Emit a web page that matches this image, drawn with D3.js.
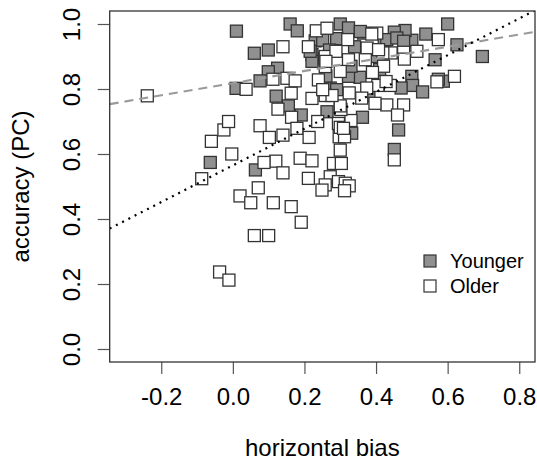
<!DOCTYPE html>
<html>
<head>
<meta charset="utf-8">
<script src="https://cdn.jsdelivr.net/npm/d3@7/dist/d3.min.js"></script>
<style>
  html, body { margin: 0; padding: 0; background: #fff; }
  svg { display: block; font-family: "Liberation Sans", Arial, Helvetica, sans-serif; }
</style>
</head>
<body>
<svg id="chart" width="537" height="462"></svg>
<script>
// Horizontal bias vs. accuracy (PC), by age group
const groups = ["Younger", "Older"];

const youngerBias = [
  -0.063, 0.010, 0.160, 0.180, 0.060, 0.099, 0.125, 0.099, 0.076, 0.009,
  0.121, 0.155, 0.191, 0.063, 0.263, 0.332, 0.362, 0.463, 0.451, 0.600,
  0.626, 0.697, 0.565, 0.539, 0.500, 0.481, 0.451, 0.500, 0.502, 0.530,
  0.588, 0.470, 0.423, 0.300, 0.355, 0.223, 0.230, 0.251, 0.221, 0.221,
  0.272, 0.323, 0.290, 0.365, 0.430, 0.458, 0.323, 0.290, 0.300, 0.270,
  0.340, 0.390, 0.410, 0.330, 0.380, 0.260, 0.574, 0.356, 0.477, 0.216
];
const youngerPC = [
  0.574, 0.978, 1.000, 0.979, 0.910, 0.920, 0.864, 0.853, 0.825, 0.802,
  0.778, 0.748, 0.720, 0.551, 0.730, 0.664, 0.713, 0.674, 0.614, 1.000,
  0.936, 0.900, 0.890, 0.969, 0.950, 0.980, 0.975, 0.839, 0.811, 0.791,
  0.824, 0.803, 0.947, 1.000, 0.836, 0.894, 0.948, 0.950, 0.906, 0.885,
  0.803, 0.988, 0.955, 0.972, 0.952, 0.957, 0.839, 0.798, 0.740, 0.920,
  0.930, 0.900, 0.860, 0.870, 0.780, 0.840, 0.830, 0.977, 0.947, 0.916
];

const olderBias = [
  -0.239, -0.060, -0.025, -0.087, -0.003, -0.012, 0.233, 0.140, 0.211, 0.112,
  0.151, 0.174, 0.037, 0.163, 0.221, 0.126, 0.164, 0.076, 0.102, 0.140,
  0.179, 0.213, 0.120, 0.087, 0.140, 0.188, 0.221, 0.211, 0.071, 0.020,
  0.050, 0.113, 0.163, 0.191, 0.060, 0.100, -0.037, -0.011, 0.237, 0.300,
  0.281, 0.272, 0.258, 0.249, 0.303, 0.295, 0.297, 0.295, 0.300, 0.312,
  0.330, 0.302, 0.430, 0.477, 0.460, 0.451, 0.314, 0.325, 0.312, 0.397,
  0.574, 0.477, 0.479, 0.514, 0.570, 0.619, 0.421, 0.390, 0.440, 0.405,
  0.374, 0.325, 0.360, 0.402, 0.442, 0.419, 0.375, 0.321, 0.388, 0.323,
  0.370, 0.300, 0.263, 0.258, 0.239, 0.300, 0.309, 0.258, 0.288, 0.258,
  0.277, 0.407, 0.260, 0.251, 0.428
];
const olderPC = [
  0.779, 0.639, 0.674, 0.524, 0.600, 0.700, 0.979, 0.930, 0.930, 0.830,
  0.833, 0.825, 0.799, 0.787, 0.771, 0.738, 0.713, 0.687, 0.651, 0.658,
  0.679, 0.651, 0.578, 0.574, 0.542, 0.587, 0.579, 0.525, 0.496, 0.471,
  0.450, 0.450, 0.438, 0.390, 0.349, 0.349, 0.237, 0.212, 0.700, 0.612,
  0.571, 0.530, 0.505, 0.489, 0.571, 0.515, 0.653, 0.694, 0.682, 0.653,
  0.703, 0.737, 0.751, 0.751, 0.720, 0.582, 0.510, 0.502, 0.487, 0.756,
  0.952, 0.913, 0.892, 0.916, 0.822, 0.839, 0.870, 0.851, 0.811, 0.811,
  0.803, 0.788, 0.772, 0.972, 0.911, 0.911, 0.926, 0.952, 0.969, 0.890,
  0.890, 0.854, 0.987, 0.869, 0.828, 0.748, 0.679, 0.900, 0.916, 0.780,
  0.780, 0.921, 0.885, 0.798, 0.823
];

// Fitted lines: [intercept, slope]
const fitYounger = [0.565, 0.565];   // dotted black
const fitOlder = [0.818, 0.187];     // dashed grey

const xTicks = [-0.2, 0.0, 0.2, 0.4, 0.6, 0.8];
const yTicks = [0.0, 0.2, 0.4, 0.6, 0.8, 1.0];

const svg = d3.select("#chart");
const plotLeft = 109.7, plotRight = 535, plotTop = 11, plotBottom = 362;

const x = d3.scaleLinear().domain([-0.344, 0.844]).range([plotLeft, plotRight]);
const y = d3.scaleLinear().domain([-0.04, 1.04]).range([plotBottom, plotTop]);

svg.append("defs").append("clipPath").attr("id", "plotclip")
  .append("rect").attr("x", plotLeft).attr("y", plotTop)
  .attr("width", plotRight - plotLeft).attr("height", plotBottom - plotTop);

// Axes (outward ticks, frame drawn separately)
const fmt = d3.format(".1f");
const xAxis = svg.append("g").attr("transform", `translate(0,${plotBottom})`)
  .call(d3.axisBottom(x).tickValues(xTicks).tickSize(12).tickPadding(14));
xAxis.select(".domain").remove();
xAxis.selectAll(".tick line").attr("stroke", "#555").attr("stroke-width", 1.2);
xAxis.selectAll(".tick text").attr("font-size", 24).attr("fill", "#000")
  .attr("font-family", "Liberation Sans, Arial, sans-serif")
  .text(d => fmt(d).replace("\u2212", "-"));

const yAxis = svg.append("g").attr("transform", `translate(${plotLeft},0)`)
  .call(d3.axisLeft(y).tickValues(yTicks).tickSize(12));
yAxis.select(".domain").remove();
yAxis.selectAll(".tick line").attr("stroke", "#555").attr("stroke-width", 1.2);
yAxis.selectAll(".tick text").remove();
yAxis.selectAll(".tick").append("text")
  .attr("transform", "translate(-38,0) rotate(-90)")
  .attr("text-anchor", "middle").attr("dy", "0.35em")
  .attr("font-size", 24).attr("fill", "#000")
  .attr("font-family", "Liberation Sans, Arial, sans-serif")
  .text(d => fmt(d));

// Points
const plot = svg.append("g").attr("clip-path", "url(#plotclip)");
const side = 12;

function drawGroup(bias, pc, fill) {
  plot.append("g").selectAll("rect")
    .data(bias.map((b, i) => [b, pc[i]]))
    .join("rect")
    .attr("x", d => x(d[0]) - side / 2)
    .attr("y", d => y(d[1]) - side / 2)
    .attr("width", side).attr("height", side)
    .attr("fill", fill)
    .attr("stroke", "#333")
    .attr("stroke-width", 1.3);
}
drawGroup(youngerBias, youngerPC, "#909090");
drawGroup(olderBias, olderPC, "#ffffff");

// Fitted lines
function drawFit(fit, color, dash) {
  const xd = x.domain();
  plot.append("line")
    .attr("x1", x(xd[0])).attr("y1", y(fit[0] + fit[1] * xd[0]))
    .attr("x2", x(xd[1])).attr("y2", y(fit[0] + fit[1] * xd[1]))
    .attr("stroke", color).attr("stroke-width", 2.2)
    .attr("stroke-dasharray", dash);
}
drawFit(fitOlder, "#9a9a9a", "9,6");
drawFit(fitYounger, "#000", "2,5");

// Plot frame
svg.append("rect").attr("x", plotLeft).attr("y", plotTop)
  .attr("width", plotRight - plotLeft).attr("height", plotBottom - plotTop)
  .attr("fill", "none").attr("stroke", "#333").attr("stroke-width", 1.3);

// Axis titles
svg.append("text").attr("x", (plotLeft + plotRight) / 2).attr("y", 448).attr("dy", "0.35em")
  .attr("text-anchor", "middle").attr("font-size", 24).text("horizontal bias");
svg.append("text").attr("transform", `translate(21,${(plotTop + plotBottom) / 2}) rotate(-90)`)
  .attr("dy", "0.35em").attr("text-anchor", "middle").attr("font-size", 24)
  .text("accuracy (PC)");

// Legend
const legend = svg.append("g");
const legendFill = ["#909090", "#ffffff"];
groups.forEach((g, i) => {
  const cy = 261 + i * 25;
  legend.append("rect").attr("x", 424).attr("y", cy - 6).attr("width", 12).attr("height", 12)
    .attr("fill", legendFill[i]).attr("stroke", "#333").attr("stroke-width", 1.2);
  legend.append("text").attr("x", 450).attr("y", cy).attr("dy", "0.35em")
    .attr("font-size", 20).text(g);
});
</script>
</body>
</html>
